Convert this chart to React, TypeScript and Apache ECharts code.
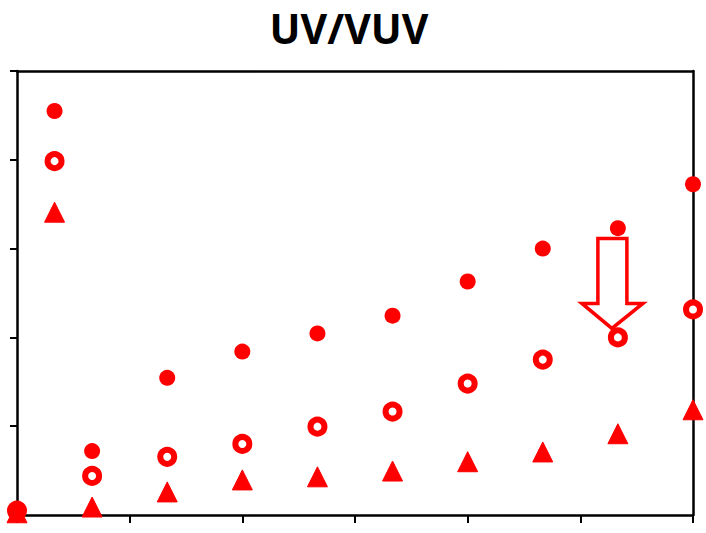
import React, { useEffect, useRef } from "react";
import * as echarts from "echarts";

const xValues = [0, 10, 20, 40, 60, 80, 100, 120, 140, 160, 180];
const filledValues = [1, 91.0, 14.4, 30.9, 36.8, 40.9, 44.9, 52.6, 60.0, 64.6, 74.5];
const openValues = [1, 79.7, 8.8, 13.1, 16.0, 19.9, 23.3, 29.6, 35.0, 40.0, 46.3];
const triangleValues = [0.5, 68.2, 1.8, 5.2, 7.9, 8.6, 9.9, 12.0, 14.2, 18.3, 23.7];
const arrowTarget = [160, 40];
const titleText = "UV/VUV";

const RED = "#ff0000";

function pairs(vals: number[]) {
  return xValues.map((x, i) => [x, vals[i]]);
}

function line() {
  return { show: true, onZero: false, lineStyle: { color: "#000", width: 2.5 } };
}

export default function App() {
  const ref = useRef<HTMLDivElement>(null);
  useEffect(() => {
    document.body.style.margin = "0";
    const chart = echarts.init(ref.current!, null, { renderer: "svg" });
    chart.setOption({
      animation: false,
      backgroundColor: "#fff",
      grid: { left: 17, right: 13, top: 71, bottom: 18 },
      xAxis: [
        {
          type: "value",
          min: 0,
          max: 180,
          interval: 30,
          axisLine: line(),
          axisTick: { show: true, inside: false, length: 8, lineStyle: { color: "#000", width: 2 } },
          axisLabel: { show: false },
          splitLine: { show: false },
        },
        {
          type: "value",
          position: "top",
          min: 0,
          max: 180,
          axisLine: line(),
          axisTick: { show: false },
          axisLabel: { show: false },
          splitLine: { show: false },
        },
      ],
      yAxis: [
        {
          type: "value",
          min: 0,
          max: 100,
          interval: 20,
          axisLine: line(),
          axisTick: { show: true, inside: false, length: 7, lineStyle: { color: "#000", width: 2 } },
          axisLabel: { show: false },
          splitLine: { show: false },
        },
        {
          type: "value",
          position: "right",
          min: 0,
          max: 100,
          axisLine: line(),
          axisTick: { show: false },
          axisLabel: { show: false },
          splitLine: { show: false },
        },
      ],
      series: [
        {
          type: "scatter",
          data: pairs(openValues),
          symbol: "circle",
          symbolSize: 14,
          clip: false,
          itemStyle: { color: "#fff", borderColor: RED, borderWidth: 6, opacity: 1 },
        },
        {
          type: "scatter",
          data: pairs(filledValues),
          symbol: "circle",
          symbolSize: 16,
          clip: false,
          itemStyle: { color: RED, opacity: 1 },
        },
        {
          type: "scatter",
          data: pairs(triangleValues),
          symbol: "triangle",
          symbolSize: 20,
          clip: false,
          itemStyle: { color: RED, opacity: 1, borderColor: RED, borderWidth: 1, borderJoin: "round" },
        },
      ],
    });
    const p = chart.convertToPixel({ gridIndex: 0 }, arrowTarget) as number[];
    const cx = p[0];
    const cy = p[1];
    chart.setOption({
      graphic: [
        {
          type: "polygon",
          shape: {
            points: [
              [cx - 20, cy - 99],
              [cx + 9, cy - 99],
              [cx + 9, cy - 34],
              [cx + 25, cy - 34],
              [cx - 6, cy - 9],
              [cx - 36, cy - 34],
              [cx - 20, cy - 34],
            ],
          },
          style: { fill: "none", stroke: RED, lineWidth: 3.5, lineJoin: "miter" },
          z: 10,
        },
        {
          type: "text",
          x: 349,
          y: 28,
          style: {
            text: titleText,
            font: "bold 41px 'Open Sans'",
            fill: "#000",
            textAlign: "center",
            textVerticalAlign: "middle",
          },
        },
      ],
    });
    return () => chart.dispose();
  }, []);
  return <div ref={ref} style={{ width: 706, height: 533 }} />;
}
